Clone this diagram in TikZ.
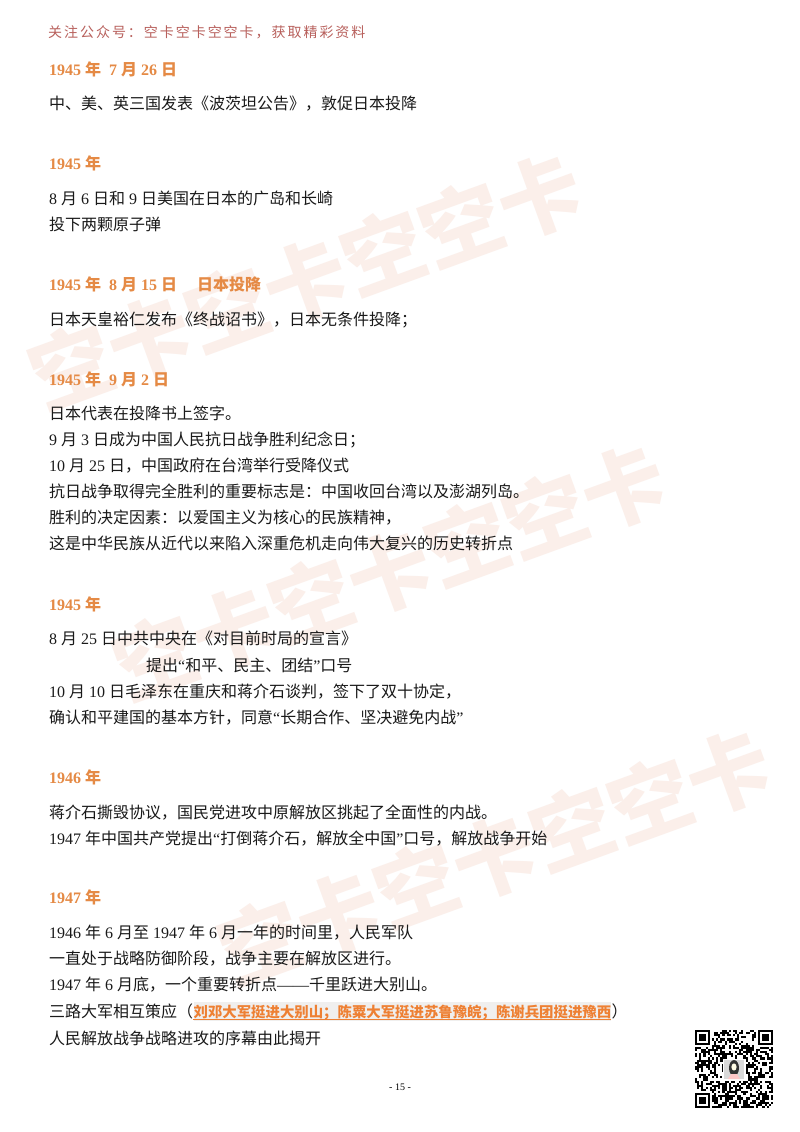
\documentclass[tikz,border=0pt]{standalone}
\usepackage{fontspec}
\usepackage{xcolor}
\setmainfont{Noto Sans CJK SC}
\newfontfamily\latinfont{Liberation Serif}
\newcommand{\nm}[1]{{\latinfont #1}}
\newcommand{\cma}{\char"FF0C\relax}
\newcommand{\cln}{\char"FF1A\relax}
\newcommand{\smi}{\char"FF1B\relax}
\newcommand{\lpr}{\char"FF08\relax}
\newcommand{\rpr}{\char"FF09\relax}
\definecolor{yearorange}{HTML}{E58A45}
\definecolor{notered}{HTML}{B8605C}
\definecolor{markorange}{HTML}{EE8033}
\definecolor{markgrey}{HTML}{F0EFEE}
\definecolor{stampred}{HTML}{FBEFEA}
\begin{document}
\begin{tikzpicture}[x=1pt, y=-1pt,
	every node/.style={inner sep=0pt, anchor=base west},
	bodyline/.style={font=\fontsize{16}{16}\selectfont, text=black!90},
	yearline/.style={font=\fontsize{16}{16}\selectfont\bfseries, text=yearorange},
	stamp/.style={anchor=center, rotate=20, font=\fontsize{83}{83}\selectfont\bfseries, text=stampred},
	module/.style={fill=black}]
  \useasboundingbox (0,0) rectangle (800,1132);
  \fill[white] (0,0) rectangle (800,1132);

  \node[stamp] (stampa) at (306,281) {空卡空卡空空卡};
  \node[stamp] (stampb) at (390,572) {空卡空卡空空卡};
  \node[stamp] (stampc) at (495,857) {空卡空卡空空卡};

  \node[font=\fontsize{14}{14}\selectfont\addfontfeature{LetterSpace=14}, text=notered] (note) at (48,38) {关注公众号\cln 空卡空卡空空卡\cma 获取精彩资料};

  \node[yearline] (ya) at (49,75) {\nm{1945 }年\nm{~ 7 }月\nm{ 26 }日};
  \node[bodyline] (aa) at (49,109) {中、美、英三国发表《波茨坦公告》\cma 敦促日本投降};

  \node[yearline] (yb) at (49,169) {\nm{1945 }年};
  \node[bodyline] (ba) at (49,204) {\nm{8 }月\nm{ 6 }日和\nm{ 9 }日美国在日本的广岛和长崎};
  \node[bodyline] (bb) at (49,230) {投下两颗原子弹};

  \node[yearline] (yc) at (49,290) {\nm{1945 }年\nm{~ 8 }月\nm{ 15 }日\hspace{20pt}日本投降};
  \node[bodyline] (ca) at (49,325) {日本天皇裕仁发布《终战诏书》\cma 日本无条件投降\smi};

  \node[yearline] (yd) at (49,385) {\nm{1945 }年\nm{~ 9 }月\nm{ 2 }日};
  \node[bodyline] (da) at (49,419) {日本代表在投降书上签字。};
  \node[bodyline] (db) at (49,445) {\nm{9 }月\nm{ 3 }日成为中国人民抗日战争胜利纪念日\smi};
  \node[bodyline] (dc) at (49,471) {\nm{10 }月\nm{ 25 }日\cma 中国政府在台湾举行受降仪式};
  \node[bodyline] (dd) at (49,497) {抗日战争取得完全胜利的重要标志是\cln 中国收回台湾以及澎湖列岛。};
  \node[bodyline] (de) at (49,523) {胜利的决定因素\cln 以爱国主义为核心的民族精神\cma};
  \node[bodyline] (df) at (49,549) {这是中华民族从近代以来陷入深重危机走向伟大复兴的历史转折点};

  \node[yearline] (ye) at (49,610) {\nm{1945 }年};
  \node[bodyline] (ea) at (49,644) {\nm{8 }月\nm{ 25 }日中共中央在《对目前时局的宣言》};
  \node[bodyline] (eb) at (146,671) {提出\nm{“}和平、民主、团结\nm{”}口号};
  \node[bodyline] (ec) at (49,697) {\nm{10 }月\nm{ 10 }日毛泽东在重庆和蒋介石谈判\cma 签下了双十协定\cma};
  \node[bodyline] (ed) at (49,723) {确认和平建国的基本方针\cma 同意\nm{“}长期合作、坚决避免内战\nm{”}};

  \node[yearline] (yf) at (49,783) {\nm{1946 }年};
  \node[bodyline] (fa) at (49,818) {蒋介石撕毁协议\cma 国民党进攻中原解放区挑起了全面性的内战。};
  \node[bodyline] (fb) at (49,844) {\nm{1947 }年中国共产党提出\nm{“}打倒蒋介石\cma 解放全中国\nm{”}口号\cma 解放战争开始};

  \node[yearline] (yg) at (49,903) {\nm{1947 }年};
  \node[bodyline] (ga) at (49,938) {\nm{1946 }年\nm{ 6 }月至\nm{ 1947 }年\nm{ 6 }月一年的时间里\cma 人民军队};
  \node[bodyline] (gb) at (49,964) {一直处于战略防御阶段\cma 战争主要在解放区进行。};
  \node[bodyline] (gc) at (49,990) {\nm{1947 }年\nm{ 6 }月底\cma 一个重要转折点\nm{——}千里跃进大别山。};
  \node[bodyline] (gd) at (49,1017) {三路大军相互策应\lpr};
  \node[font=\fontsize{14.4}{14.4}\selectfont\bfseries, text=markorange, fill=markgrey, text height=15pt, text depth=4pt] (mark) at (gd.base east) {刘邓大军挺进大别山\smi 陈粟大军挺进苏鲁豫皖\smi 陈谢兵团挺进豫西};
  \node[bodyline] (ge) at (mark.base east) {\rpr};
  \draw[markorange, line width=1pt] ([yshift=2pt]mark.south west) -- ([yshift=2pt]mark.south east);
  \node[bodyline] (gf) at (49,1044) {人民解放战争战略进攻的序幕由此揭开};

  \node[anchor=center, font=\fontsize{10}{10}\selectfont\latinfont] (page) at (400,1087) {- 15 -};

  \pgfmathsetseed{1945}
  \foreach \i in {0,...,36}
	\foreach \j in {0,...,36} {
	  \pgfmathrandominteger{\qrbit}{0}{1}
	  \ifnum\qrbit=1
		\fill[module] ({695+2.108*\i},{1030+2.108*\j}) rectangle +(2.108,2.108);
	  \fi
	}
  \foreach \fx/\fy in {695/1030,758.2/1030,695/1093.2} {
	\fill[white] ({\fx-2.1},{\fy-2.1}) rectangle +(19,19);
	\fill[black] (\fx,\fy) rectangle +(14.8,14.8);
	\fill[white] ({\fx+2.1},{\fy+2.1}) rectangle +(10.6,10.6);
	\fill[black] ({\fx+4.2},{\fy+4.2}) rectangle +(6.4,6.4);
  }
  \fill[white] (722.5,1058.5) rectangle (745.5,1081);
  \fill[black!15] (724,1060) rectangle (744,1079);
  \fill[black!80] (734,1068) ellipse [x radius=5, y radius=8];
  \fill[red!12!yellow!10!white] (734,1067) ellipse [x radius=2.6, y radius=3.6];
  \fill[red!22] (728,1079) -- (731,1074) -- (737,1074) -- (740,1079) -- cycle;
\end{tikzpicture}
\end{document}
